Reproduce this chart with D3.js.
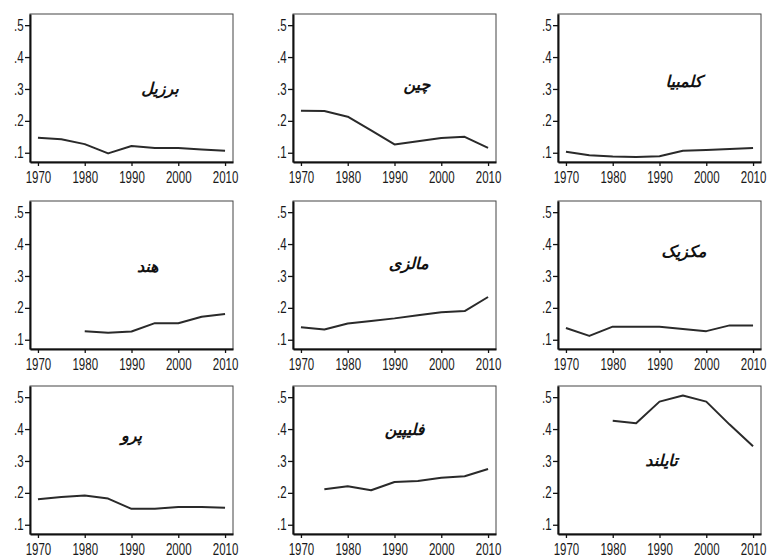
<!DOCTYPE html>
<html>
<head>
<meta charset="utf-8">
<script src="https://cdn.jsdelivr.net/npm/d3@7"></script>
<style>
  html, body { margin: 0; padding: 0; background: #fff; }
  svg { display: block; }
  .tick text { font-family: Arial, "Liberation Sans", sans-serif; fill: #1a1a1a; }
</style>
</head>
<body>
<svg id="chart" width="769" height="559"></svg>
<script>
// ---- Data ----
const years = [1970, 1975, 1980, 1985, 1990, 1995, 2000, 2005, 2010];
const countries = ["برزیل", "چین", "کلمبیا", "هند", "مالزی", "مکزیک", "پرو", "فلیپین", "تایلند"];
const brazil    = [0.147, 0.142, 0.127, 0.098, 0.121, 0.115, 0.115, 0.110, 0.106];
const china     = [0.232, 0.231, 0.213, 0.170, 0.126, 0.136, 0.146, 0.150, 0.115];
const colombia  = [0.103, 0.092, 0.088, 0.087, 0.089, 0.106, 0.109, 0.112, 0.115];
const india     = [null, null, 0.127, 0.122, 0.126, 0.152, 0.152, 0.172, 0.181];
const malaysia  = [0.139, 0.132, 0.151, 0.159, 0.167, 0.177, 0.186, 0.190, 0.234];
const mexico    = [0.137, 0.112, 0.141, 0.141, 0.141, 0.134, 0.127, 0.145, 0.145];
const peru      = [0.180, 0.187, 0.192, 0.182, 0.150, 0.150, 0.156, 0.156, 0.153];
const philippines = [null, 0.211, 0.221, 0.208, 0.234, 0.237, 0.247, 0.252, 0.275];
const thailand  = [null, null, 0.426, 0.418, 0.486, 0.505, 0.486, 0.414, 0.346];
const seriesList = [brazil, china, colombia, india, malaysia, mexico, peru, philippines, thailand];
const yTicks = [0.1, 0.2, 0.3, 0.4, 0.5];
const yTickLabels = [".1", ".2", ".3", ".4", ".5"];
const xTicks = [1970, 1980, 1990, 2000, 2010];

// ---- Layout (styling, not data) ----
const colLeft = [30, 293, 558];
const rowTop = [14, 201, 386];
const pw = 203, ph = 148;
const titleFrac = [[0.64,0.51],[0.61,0.48],[0.62,0.46],[0.58,0.45],[0.57,0.43],[0.62,0.35],[0.50,0.34],[0.55,0.30],[0.51,0.51]];

const svg = d3.select("#chart");
const x = d3.scaleLinear().domain([1968.3, 2011.7]).range([0, pw]);
const y = d3.scaleLinear().domain([0.071, 0.535]).range([ph, 0]);

seriesList.forEach((vals, i) => {
  const col = i % 3, row = Math.floor(i / 3);
  const g = svg.append("g").attr("transform", `translate(${colLeft[col]},${rowTop[row]})`);

  // thin frame
  g.append("rect").attr("x", 0).attr("y", 0).attr("width", pw).attr("height", ph)
    .attr("fill", "none").attr("stroke", "#444").attr("stroke-width", 1);

  // y axis
  const ya = g.append("g").call(
    d3.axisLeft(y).tickValues(yTicks).tickFormat((d, k) => yTickLabels[k]).tickSize(5).tickSizeOuter(0).tickPadding(4)
  );
  ya.select(".domain").attr("stroke", "#111").attr("stroke-width", 2);
  ya.selectAll(".tick line").attr("stroke", "#111").attr("stroke-width", 1.3);
  ya.selectAll(".tick text").attr("font-size", 16).attr("transform", "scale(0.72,1)");

  // x axis
  const xa = g.append("g").attr("transform", `translate(0,${ph})`).call(
    d3.axisBottom(x).tickValues(xTicks).tickFormat(d3.format("d")).tickSize(4).tickSizeOuter(0).tickPadding(6)
  );
  xa.select(".domain").attr("stroke", "#111").attr("stroke-width", 2);
  xa.selectAll(".tick line").attr("stroke", "#111").attr("stroke-width", 1.3);
  xa.selectAll(".tick text").attr("font-size", 16).attr("transform", "scale(0.72,1)");

  // line
  const data = years.map((yr, k) => ({ yr, v: vals[k] }));
  const line = d3.line().defined(d => d.v != null).x(d => x(d.yr)).y(d => y(d.v));
  g.append("path").datum(data).attr("d", line)
    .attr("fill", "none").attr("stroke", "#2a2a2a").attr("stroke-width", 2).attr("stroke-linejoin", "round");

  // title
  g.append("text")
    .attr("x", titleFrac[i][0] * pw).attr("y", titleFrac[i][1] * ph)
    .attr("text-anchor", "middle").attr("dominant-baseline", "middle")
    .attr("font-family", "'DejaVu Sans', sans-serif").attr("font-weight", "bold").attr("font-style", "italic")
    .attr("font-size", 16).attr("fill", "#111")
    .text(countries[i]);
});
</script>
</body>
</html>
